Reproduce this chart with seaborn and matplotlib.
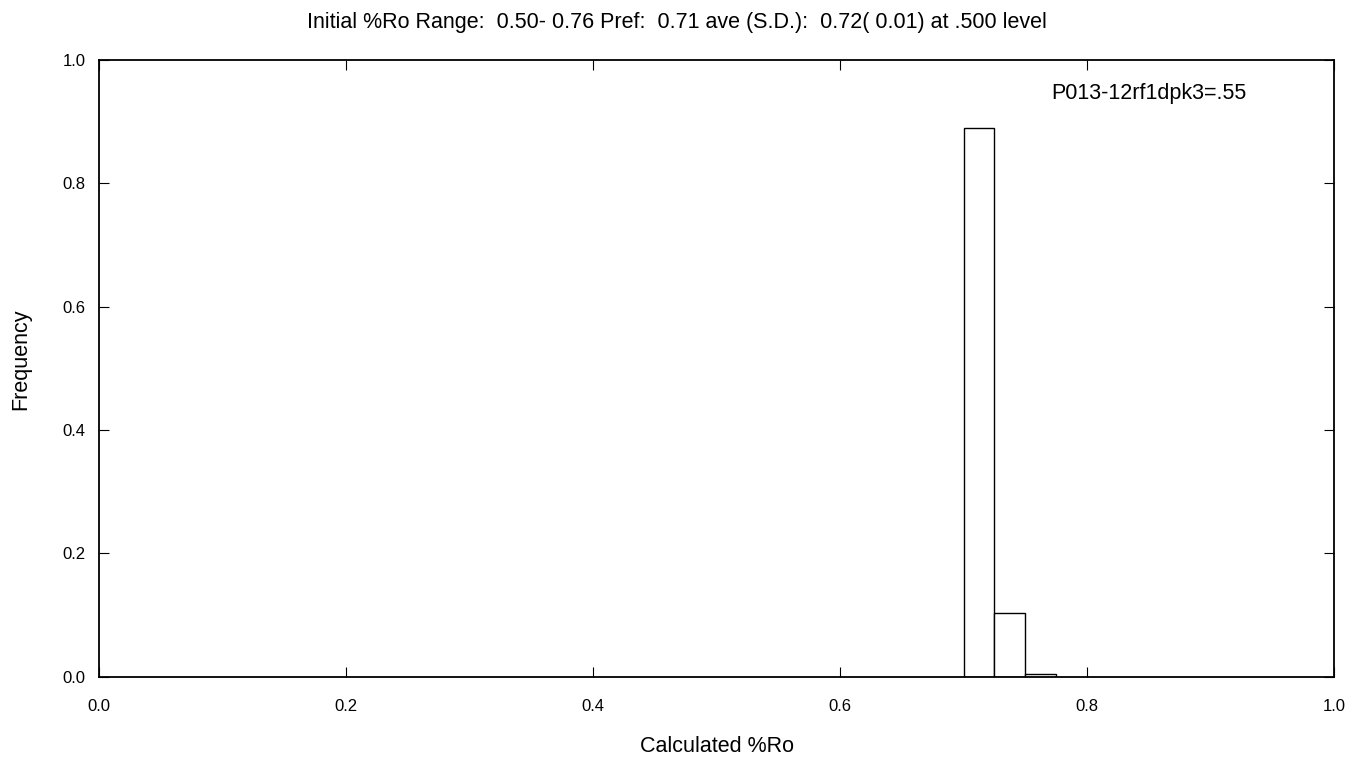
import matplotlib
matplotlib.use("Agg")
import matplotlib.pyplot as plt
import seaborn as sns
import numpy as np

bin_edges = [0.700, 0.725, 0.750, 0.775]
frequencies = [0.889, 0.103, 0.005]
title_text = "Initial %Ro Range:  0.50- 0.76 Pref:  0.71 ave (S.D.):  0.72( 0.01) at .500 level"
label_text = "P013-12rf1dpk3=.55"
x_ticks = [0.0, 0.2, 0.4, 0.6, 0.8, 1.0]
y_ticks = [0.0, 0.2, 0.4, 0.6, 0.8, 1.0]

sns.set_style("white")
plt.rcParams['font.family'] = ['Liberation Sans', 'DejaVu Sans']
plt.rcParams['text.color'] = 'black'
plt.rcParams['axes.labelcolor'] = 'black'

fig = plt.figure(figsize=(13.66, 7.59), dpi=100)
ax = fig.add_axes([0.0727, 0.1084, 0.9039, 0.8126])

centers = [(bin_edges[i] + bin_edges[i + 1]) / 2 for i in range(len(frequencies))]
sns.histplot(x=centers, weights=frequencies, bins=bin_edges, ax=ax,
             color="white", edgecolor="black", linewidth=1.0, alpha=1.0, stat="count")

ax.set_xlim(0, 1)
ax.set_ylim(0, 1)
ax.set_xticks(x_ticks)
ax.set_yticks(y_ticks)
ax.set_xticklabels([f"{v:.1f}" for v in x_ticks], fontsize=12)
ax.set_yticklabels([f"{v:.1f}" for v in y_ticks], fontsize=12)
ax.tick_params(direction="in", length=7, width=0.8, top=True, right=True,
               bottom=True, left=True, colors="black")
ax.tick_params(axis="x", pad=16)
ax.tick_params(axis="y", pad=10)
for s in ax.spines.values():
    s.set_visible(True)
    s.set_color("black")
    s.set_linewidth(1.3)

ax.set_xlabel("")
ax.set_ylabel("Frequency", fontsize=15.5)
ax.yaxis.set_label_coords(-0.055, 0.515)
fig.text(0.5246, 1 - 752 / 759, "Calculated %Ro", fontsize=15.5, ha="center", va="baseline")
fig.text(0.4953, 1 - 28.3 / 759, title_text, fontsize=15.5, ha="center", va="baseline")
ax.text(0.771, 0.936, label_text, fontsize=15.5, transform=ax.transAxes, va="baseline")

fig.savefig("out.png", dpi=100)
